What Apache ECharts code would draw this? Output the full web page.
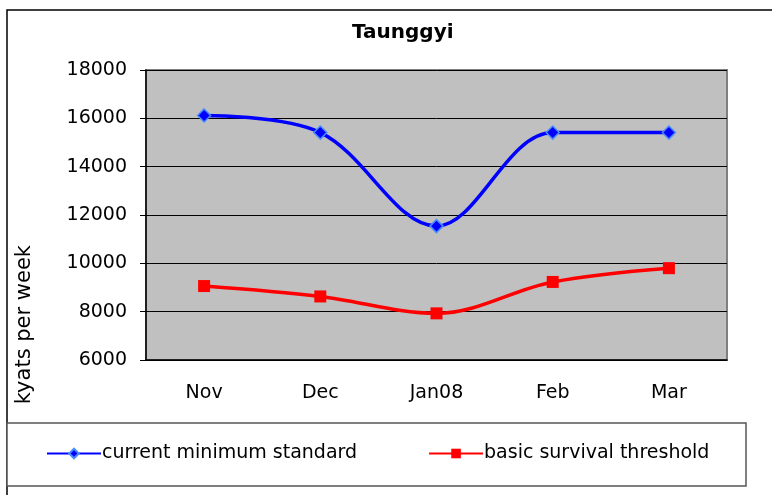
<!DOCTYPE html>
<html>
<head>
<meta charset="utf-8">
<script src="https://cdn.jsdelivr.net/npm/echarts@6/dist/echarts.min.js"></script>
<style>
  html, body { margin: 0; padding: 0; background: #fff; }
  #chart { width: 772px; height: 495px; }
</style>
</head>
<body>
<div id="chart"></div>
<script>
const months = ['Nov', 'Dec', 'Jan08', 'Feb', 'Mar'];
const currentMinimum = [16120, 15410, 11540, 15410, 15410];
const survivalThreshold = [9060, 8630, 7930, 9230, 9800];
const yTicks = { min: 6000, max: 18000, step: 2000 };

const font = 'DejaVu Sans, Liberation Sans, sans-serif';

const chart = echarts.init(document.getElementById('chart'));
chart.setOption({
  animation: false,
  backgroundColor: '#fff',
  textStyle: { fontFamily: font, color: '#000' },
  title: {
    text: 'Taunggyi',
    left: 347,
    top: 18,
    textStyle: { fontFamily: font, fontSize: 20, fontWeight: 'bold', color: '#000' }
  },
  graphic: [
    // outer chart frame
    { type: 'rect', shape: { x: 7, y: 10, width: 780, height: 500 },
      style: { fill: 'none', stroke: '#000', lineWidth: 1.5 }, silent: true, z: -1 },
    // legend box
    { type: 'rect', shape: { x: 7, y: 423, width: 739, height: 63 },
      style: { fill: '#fff', stroke: '#555', lineWidth: 1.5 }, silent: true, z: -1 },
    // y axis title
    { type: 'text', left: 14, top: 245, rotation: Math.PI / 2,
      style: { text: 'kyats per week', font: '21px ' + font, fill: '#000' } }
  ],
  legend: {
    bottom: 27,
    left: 41,
    itemGap: 71,
    itemWidth: 54,
    itemHeight: 12,
    textStyle: { fontFamily: font, fontSize: 19, color: '#000', padding: [0, 0, 0, -4] },
    data: ['current minimum standard', 'basic survival threshold']
  },
  grid: { left: 146, right: 45, top: 70, bottom: 135, show: true,
    backgroundColor: '#c0c0c0', borderColor: '#808080', borderWidth: 2 },
  xAxis: {
    type: 'category',
    data: months,
    boundaryGap: true,
    axisLine: { lineStyle: { color: '#000', width: 1.5 } },
    axisTick: { length: 6, lineStyle: { color: '#000' } },
    axisLabel: { fontFamily: font, fontSize: 19, color: '#000', margin: 24 }
  },
  yAxis: {
    type: 'value',
    min: yTicks.min,
    max: yTicks.max,
    interval: yTicks.step,
    axisLine: { show: true, lineStyle: { color: '#000', width: 1.5 } },
    axisTick: { show: true, length: 6, lineStyle: { color: '#000' } },
    axisLabel: { fontFamily: font, fontSize: 19, color: '#000', margin: 19,
      formatter: v => String(v) },
    splitLine: { lineStyle: { color: '#000', width: 1 } }
  },
  series: [
    {
      name: 'current minimum standard',
      type: 'line',
      data: currentMinimum,
      smooth: 0.35,
      symbol: 'diamond',
      symbolSize: 13,
      lineStyle: { color: '#0000ff', width: 3.5 },
      itemStyle: { color: '#0000ff', borderColor: '#4a8cff', borderWidth: 1.5 }
    },
    {
      name: 'basic survival threshold',
      type: 'line',
      data: survivalThreshold,
      smooth: 0.35,
      symbol: 'rect',
      symbolSize: 12,
      lineStyle: { color: '#ff0000', width: 3.5 },
      itemStyle: { color: '#ff0000' }
    }
  ]
});
</script>
</body>
</html>
